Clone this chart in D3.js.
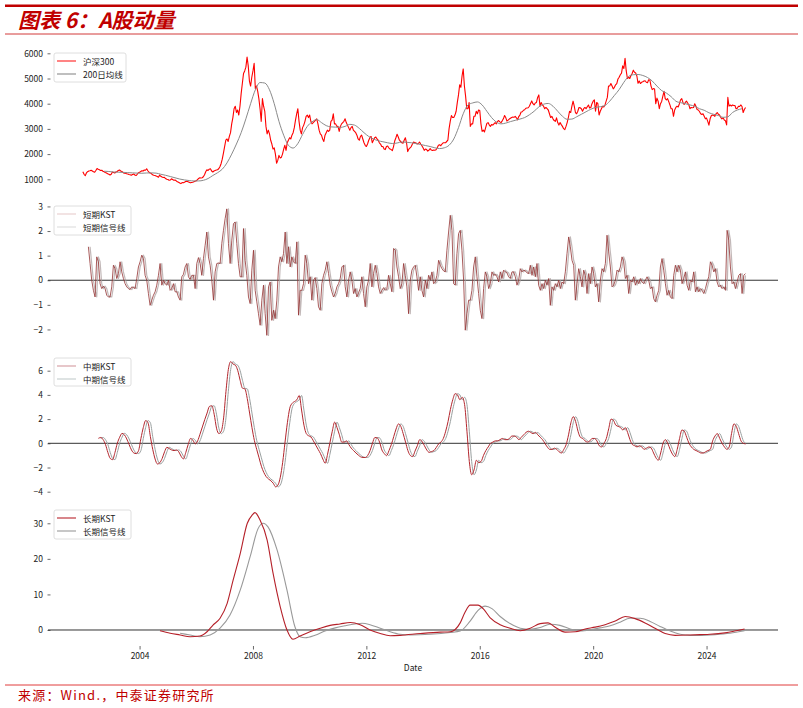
<!DOCTYPE html>
<html><head><meta charset="utf-8">
<script src="https://cdn.jsdelivr.net/npm/d3@7"></script>
<style>
body{margin:0;background:#fff}
svg{display:block}
text{font-family:"Noto Sans CJK SC","Liberation Sans",sans-serif}
</style>
</head><body>
<svg id="c" width="803" height="708"></svg>
<script>
// ---------------- DATA ----------------
const xTicks = [2004, 2008, 2012, 2016, 2020, 2024];
const p1Ticks = [1000, 2000, 3000, 4000, 5000, 6000];
const p2Ticks = [-2, -1, 0, 1, 2, 3];
const p3Ticks = [-4, -2, 0, 2, 4, 6];
const p4Ticks = [0, 10, 20, 30];

// 沪深300, semi-monthly readings from 2002.0
const csiStart = 2002.0, csiStep = 1 / 24;
const csi300 = [
1300,1200,1140,1250,1300,1330,1340,1360,1330,1300,1280,1350,1430,1400,1380,1350,1360,1320,1300,1270,1250,1220,1200,1170,
1200,1290,1270,1250,1290,1310,1350,1370,1330,1310,1270,1240,1240,1220,1210,1190,1180,1160,1190,1210,1170,1150,1200,1260,
1280,1310,1340,1330,1370,1360,1420,1340,1280,1250,1230,1180,1160,1150,1130,1110,1080,1170,1120,1090,1070,1080,1030,1000,
990,960,970,1020,990,960,970,940,900,880,850,830,870,860,880,910,920,900,880,860,870,880,900,920,
940,990,1030,1060,1050,1060,1100,1180,1300,1380,1350,1400,1420,1330,1290,1330,1350,1370,1380,1420,1500,1620,1800,2040,
2300,2550,2600,2500,2700,2850,3200,3450,3800,3900,3650,3750,3550,3900,4400,4800,5200,5300,5450,5850,5500,4900,4700,5050,
5300,5600,4600,4700,4500,4200,3800,3300,4200,3900,3700,3100,2800,2950,2800,2550,2400,2200,2250,2000,1640,1750,1950,1850,
1870,2000,2200,2350,2150,2450,2550,2650,2600,2750,2850,3050,3350,3600,3800,3300,2950,2800,3050,3150,3300,3500,3550,3450,
3550,3300,3200,3250,3300,3350,3400,3200,2950,2800,2750,2600,2500,2750,2850,2950,2900,2950,3300,3350,3600,3200,3200,3100,
3100,2900,3100,3200,3250,3300,3400,3250,3150,3050,2950,3050,3100,2950,2900,2850,2750,2600,2550,2700,2750,2600,2450,2350,
2300,2400,2550,2650,2700,2450,2550,2650,2680,2600,2550,2450,2400,2300,2300,2200,2180,2300,2320,2250,2200,2180,2140,2300,
2520,2650,2790,2680,2550,2500,2450,2430,2550,2650,2450,2100,2200,2250,2300,2400,2480,2450,2450,2400,2420,2480,2400,2330,
2250,2150,2200,2180,2120,2150,2220,2160,2140,2160,2150,2170,2250,2350,2370,2330,2400,2450,2450,2450,2500,2550,3000,3300,
3530,3450,3450,3550,3700,4050,4350,4750,4650,5100,5380,4700,4300,3800,3800,4050,3100,3200,3200,3500,3500,3700,3600,3750,
3730,3200,2900,2950,2880,3050,3220,3250,3160,3100,3170,3150,3200,3250,3200,3300,3330,3280,3250,3320,3400,3530,3450,3310,
3350,3390,3420,3450,3470,3460,3500,3440,3360,3490,3550,3670,3680,3740,3760,3820,3830,3840,3900,4010,4110,4000,3950,4030,
4050,4250,4350,3900,4050,3950,3900,3800,3850,3800,3750,3600,3450,3500,3400,3330,3300,3440,3250,3150,3250,3170,3100,3010,
2970,3100,3250,3450,3700,3650,3900,4100,3900,3650,3600,3700,3850,3840,3800,3700,3800,3850,3800,3880,3950,3830,3850,4000,
4100,4150,3700,4050,4000,3550,3700,3800,3900,3870,3950,4100,4250,4700,4700,4800,4700,4590,4650,4750,4800,4980,5050,5150,
5210,5500,5400,5800,5300,5000,5050,5000,5120,5200,5330,5250,5220,5100,4810,4900,4800,4850,4870,4900,4910,4850,4830,4950,
4940,4700,4560,4600,4580,4000,4220,4100,3800,4000,4090,4300,4490,4200,4150,4200,4080,3950,3800,3800,3500,3750,3850,3900,
3870,4000,4150,4200,4050,3970,4050,4100,4030,3950,3800,3850,3840,3850,4000,3900,3770,3750,3690,3600,3570,3600,3500,3400,
3430,3300,3150,3400,3520,3550,3540,3500,3600,3650,3580,3550,3460,3400,3440,3350,3320,3160,4250,3900,3950,3910,3950,3930,
3930,3800,3820,3900,3890,3950,3890,3650,3770,3850
];

// 200日均线, bi-monthly readings from 2002.75
const maStart = 2002.75, maStep = 1 / 6;
const ma200 = [
1320,1310,1290,1280,1275,1265,1255,1245,1240,1250,1255,1245,1200,1160,1110,1060,1010,975,950,935,
935,960,1030,1150,1260,1400,1650,2000,2400,2850,3400,4000,4550,4840,4820,4550,4000,3300,2750,2350,
2240,2420,2780,3100,3280,3370,3250,3130,3080,3070,3060,3100,3180,3150,3020,2850,2700,2600,2530,2490,
2450,2420,2440,2480,2470,2450,2420,2380,2340,2300,2250,2220,2250,2350,2600,3050,3600,3950,4030,4070,
3950,3700,3450,3270,3200,3230,3290,3340,3390,3450,3560,3700,3870,3980,4010,3900,3700,3500,3380,3390,
3480,3580,3680,3780,3850,3880,3930,4100,4330,4560,4850,5080,5150,5160,5120,5040,4900,4700,4520,4420,
4280,4100,4040,4000,3950,3900,3800,3740,3640,3580,3530,3460,3480,3650,3750,3800
];

// 短期KST, readings every 1/17 year from 2002.195
const shortStart = 2002.195, shortStep = 1 / 17;
const shortKst = [
1.36,0.68,0,-0.41,-0.68,0.95,0.75,-0.14,-0.34,-0.24,
-0.34,-0.61,-0.68,-0.68,-0.27,0.61,0.47,0.07,0.27,0.75,
0.34,0.07,-0.14,-0.27,-0.34,-0.38,-0.27,-0.30,-0.34,0.07,
0.54,0.75,1.02,0.88,0.20,0,-0.54,-1.02,-0.81,-0.61,
-0.47,-0.20,0.20,0.68,-0.20,0,-0.14,-0.20,0,-0.41,
-0.34,-0.14,-0.47,-0.47,-0.68,-0.81,0.14,0.24,0.54,0.68,
0.14,0.03,0.20,0.20,-0.34,0.68,0.92,0.68,0.20,0.88,
1.42,1.96,0.95,0.61,0,-0.81,0.34,0.68,0.70,0.68,
1.49,2.03,2.51,2.9,1.49,0.68,1.63,2.30,2.37,1.49,
0.68,0.14,0.14,2.10,0.81,0.20,-0.68,-0.95,0.41,1.22,
-0.41,-0.88,-1.36,-1.83,-0.81,-0.20,-1.36,-2.24,-0.27,-0.07,
-1.63,-1.22,-1.56,-0.81,0.54,0.95,0.75,1.08,1.96,0.68,
1.36,0.54,0.95,0.75,0.68,1.56,-1.42,-0.41,-0.41,-0.14,
1.02,0.68,-0.14,0.14,-0.81,0,0.11,-0.34,-1.08,-1.22,
-0.14,0.20,0.41,0.75,0.27,-0.20,-0.47,-0.68,-0.54,-0.27,
-0.14,0.07,0.54,0.61,-0.27,-0.68,0,0.34,0,-0.54,
-0.34,-0.68,-0.51,-0.34,0.14,-0.54,-1.08,-0.27,0,0.68,
-0.27,0.27,0.61,0.27,-0.27,-0.54,-0.41,-0.30,-0.41,-0.34,
0.20,-0.14,-0.47,1.29,1.22,0.54,0.14,-0.34,-0.14,0.68,
0.20,-0.27,-1.36,0,0.41,0.54,0.61,0.14,-0.41,
0.14,-0.41,-0.68,0,-0.34,0.20,0,0.34,-0.14,-0.07,
0.20,0.81,0.61,0.47,0.38,0.34,1.22,1.96,2.64,2.03,
-0.14,-0.20,1.08,1.90,2.03,1.22,0,-2.03,-1.36,-0.81,
-0.81,-0.41,0.54,0.95,0.14,-0.54,-1.22,-1.56,-0.34,0.34,
0.14,-0.34,-0.14,0.34,0.20,0.24,0.14,-0.07,0.34,0.07,
0.41,0.34,0.30,0.14,0.07,0.34,0.34,0.14,-0.20,0,
0.47,0.34,0.41,0.38,0.30,0.27,0.61,0.20,0.54,0.14,
0.68,-0.20,-0.41,-0.14,-0.34,0,-0.20,0.07,-1.02,-0.27,
-0.41,-0.14,-0.27,0,-0.34,-0.07,-0.14,0.34,1.08,1.76,
1.36,0.81,0.61,-0.81,-0.14,0.47,0.14,-0.27,0.41,0.20,
-0.54,0.27,-0.14,0.54,0.27,-0.27,-0.14,-0.88,0,0.47,
0.34,0.68,1.83,1.15,0.54,-0.27,-0.20,0,0.41,0.34,
0.54,0.95,0.75,0.07,0.20,-0.54,0,-0.07,0.14,-0.20,
0,-0.14,0.07,-0.07,-0.14,0,0.14,0,-0.34,-0.27,
-0.75,-0.88,-0.61,-0.41,0.54,0.88,0.41,-0.14,-0.61,-0.41,
-0.68,-0.75,0.20,0.61,0.34,0.61,0.41,-0.14,0.07,0.34,
-0.20,-0.41,0,-0.07,0.34,-0.47,-0.27,-0.47,-0.34,-0.41,
-0.54,-0.34,-0.07,0.14,0.75,0.61,0.34,0.47,-0.07,-0.27,
-0.20,-0.34,-0.27,-0.41,2.03,1.63,0.54,-0.14,-0.07,-0.34,
-0.07,0.20,0.27,-0.54,0.20,0.27
];
// 短期信号线 (lags the KST by one reading)
const shortSignalStart = 2002.254;
const shortSignal = [
1.36,0.68,0,-0.41,-0.68,0.95,0.75,-0.14,-0.34,-0.24,
-0.34,-0.61,-0.68,-0.68,-0.27,0.61,0.47,0.07,0.27,0.75,
0.34,0.07,-0.14,-0.27,-0.34,-0.38,-0.27,-0.30,-0.34,0.07,
0.54,0.75,1.02,0.88,0.20,0,-0.54,-1.02,-0.81,-0.61,
-0.47,-0.20,0.20,0.68,-0.20,0,-0.14,-0.20,0,-0.41,
-0.34,-0.14,-0.47,-0.47,-0.68,-0.81,0.14,0.24,0.54,0.68,
0.14,0.03,0.20,0.20,-0.34,0.68,0.92,0.68,0.20,0.88,
1.42,1.96,0.95,0.61,0,-0.81,0.34,0.68,0.70,0.68,
1.49,2.03,2.51,2.9,1.49,0.68,1.63,2.30,2.37,1.49,
0.68,0.14,0.14,2.10,0.81,0.20,-0.68,-0.95,0.41,1.22,
-0.41,-0.88,-1.36,-1.83,-0.81,-0.20,-1.36,-2.24,-0.27,-0.07,
-1.63,-1.22,-1.56,-0.81,0.54,0.95,0.75,1.08,1.96,0.68,
1.36,0.54,0.95,0.75,0.68,1.56,-1.42,-0.41,-0.41,-0.14,
1.02,0.68,-0.14,0.14,-0.81,0,0.11,-0.34,-1.08,-1.22,
-0.14,0.20,0.41,0.75,0.27,-0.20,-0.47,-0.68,-0.54,-0.27,
-0.14,0.07,0.54,0.61,-0.27,-0.68,0,0.34,0,-0.54,
-0.34,-0.68,-0.51,-0.34,0.14,-0.54,-1.08,-0.27,0,0.68,
-0.27,0.27,0.61,0.27,-0.27,-0.54,-0.41,-0.30,-0.41,-0.34,
0.20,-0.14,-0.47,1.29,1.22,0.54,0.14,-0.34,-0.14,0.68,
0.20,-0.27,-1.36,0,0.41,0.54,0.61,0.14,-0.41,
0.14,-0.41,-0.68,0,-0.34,0.20,0,0.34,-0.14,-0.07,
0.20,0.81,0.61,0.47,0.38,0.34,1.22,1.96,2.64,2.03,
-0.14,-0.20,1.08,1.90,2.03,1.22,0,-2.03,-1.36,-0.81,
-0.81,-0.41,0.54,0.95,0.14,-0.54,-1.22,-1.56,-0.34,0.34,
0.14,-0.34,-0.14,0.34,0.20,0.24,0.14,-0.07,0.34,0.07,
0.41,0.34,0.30,0.14,0.07,0.34,0.34,0.14,-0.20,0,
0.47,0.34,0.41,0.38,0.30,0.27,0.61,0.20,0.54,0.14,
0.68,-0.20,-0.41,-0.14,-0.34,0,-0.20,0.07,-1.02,-0.27,
-0.41,-0.14,-0.27,0,-0.34,-0.07,-0.14,0.34,1.08,1.76,
1.36,0.81,0.61,-0.81,-0.14,0.47,0.14,-0.27,0.41,0.20,
-0.54,0.27,-0.14,0.54,0.27,-0.27,-0.14,-0.88,0,0.47,
0.34,0.68,1.83,1.15,0.54,-0.27,-0.20,0,0.41,0.34,
0.54,0.95,0.75,0.07,0.20,-0.54,0,-0.07,0.14,-0.20,
0,-0.14,0.07,-0.07,-0.14,0,0.14,0,-0.34,-0.27,
-0.75,-0.88,-0.61,-0.41,0.54,0.88,0.41,-0.14,-0.61,-0.41,
-0.68,-0.75,0.20,0.61,0.34,0.61,0.41,-0.14,0.07,0.34,
-0.20,-0.41,0,-0.07,0.34,-0.47,-0.27,-0.47,-0.34,-0.41,
-0.54,-0.34,-0.07,0.14,0.75,0.61,0.34,0.47,-0.07,-0.27,
-0.20,-0.34,-0.27,-0.41,2.03,1.63,0.54,-0.14,-0.07,-0.34,
-0.07,0.20,0.27,-0.54,0.20
];

// 中期KST, monthly readings from 2002.548
const medStart = 2002.548, medStep = 1 / 12;
const medKst = [
0.41,0.48,0.3,-0.1,-0.75,-1.25,-1.35,-0.76,0.0,0.5,
0.82,0.7,0.36,-0.1,-0.55,-0.8,-0.85,-0.6,0.4,1.3,
1.88,1.7,0.55,-0.5,-1.3,-1.71,-1.6,-1.25,-0.7,-0.33,
-0.44,-0.55,-0.6,-0.55,-0.7,-1.07,-1.29,-0.75,-0.1,0.4,
0.25,-0.05,0.2,0.75,1.35,1.95,2.5,3.05,3.1,2.4,
1.25,0.8,1.0,2.1,4.3,6.1,6.75,6.55,6.45,6.0,
5.2,4.55,4.5,3.7,2.5,1.3,0.25,-0.5,-1.2,-1.9,
-2.4,-2.75,-2.95,-3.1,-3.3,-3.6,-3.45,-2.8,-1.57,0.1,
1.7,2.9,3.3,3.45,3.6,3.95,2.75,1.5,0.8,0.62,
0.52,0.2,-0.15,-0.5,-0.85,-1.3,-1.65,-0.9,0.05,1.0,
1.75,1.3,0.7,0.1,0.1,0.2,-0.1,-0.4,-0.6,-0.8,
-0.97,-1.12,-1.17,-1.17,-1.0,-0.6,0.0,0.48,0.45,0.1,
-0.55,-0.85,-1.02,-0.6,-0.1,0.55,1.18,1.6,1.4,0.8,
0.1,-0.6,-1.0,-1.1,-0.65,-0.2,0.3,0.15,-0.2,-0.55,
-0.75,-0.68,-0.6,-0.35,-0.05,
0.1,0.4,1.0,1.8,2.8,3.6,4.1,4.0,3.6,3.8,
3.2,1.0,-1.5,-2.6,-2.2,-1.4,-1.6,-1.5,-1.0,-0.6,
-0.3,0.0,0.1,0.2,0.2,0.3,0.4,0.3,0.3,0.4,0.6,0.6,
0.5,0.3,0.5,0.7,0.9,1.0,0.9,0.8,0.9,0.7,
0.5,0.3,0.0,-0.3,-0.5,-0.5,-0.4,-0.5,-0.7,-0.8,
-0.5,-0.1,0.7,1.7,2.2,1.8,1.0,0.5,0.4,0.2,
0.1,0.2,0.4,0.4,0.2,-0.2,-0.3,0.0,0.4,1.2,
2.0,1.9,1.5,1.4,1.3,1.1,1.3,0.9,0.3,-0.1,
-0.2,-0.3,-0.2,-0.3,-0.5,-0.4,-0.3,-0.4,-0.8,-1.2,
-1.4,-0.8,0.0,0.3,0.0,-0.5,-0.9,-1.1,-0.5,0.4,
1.1,1.0,0.5,0.0,-0.3,-0.5,-0.6,-0.7,-0.8,-0.8,
-0.7,-0.6,-0.5,0.2,0.6,0.8,0.4,0.0,-0.3,-0.5,
-0.3,0.8,1.6,1.4,0.8,0.2,0.0,-0.05
];
// 中期信号线 (lags the KST by one month)
const medSignalStart = 2002.631;
const medSignal = [
0.41,0.48,0.3,-0.1,-0.75,-1.25,-1.35,-0.76,0.0,0.5,
0.82,0.7,0.36,-0.1,-0.55,-0.8,-0.85,-0.6,0.4,1.3,
1.88,1.7,0.55,-0.5,-1.3,-1.71,-1.6,-1.25,-0.7,-0.33,
-0.44,-0.55,-0.6,-0.55,-0.7,-1.07,-1.29,-0.75,-0.1,0.4,
0.25,-0.05,0.2,0.75,1.35,1.95,2.5,3.05,3.1,2.4,
1.25,0.8,1.0,2.1,4.3,6.1,6.75,6.55,6.45,6.0,
5.2,4.55,4.5,3.7,2.5,1.3,0.25,-0.5,-1.2,-1.9,
-2.4,-2.75,-2.95,-3.1,-3.3,-3.6,-3.45,-2.8,-1.57,0.1,
1.7,2.9,3.3,3.45,3.6,3.95,2.75,1.5,0.8,0.62,
0.52,0.2,-0.15,-0.5,-0.85,-1.3,-1.65,-0.9,0.05,1.0,
1.75,1.3,0.7,0.1,0.1,0.2,-0.1,-0.4,-0.6,-0.8,
-0.97,-1.12,-1.17,-1.17,-1.0,-0.6,0.0,0.48,0.45,0.1,
-0.55,-0.85,-1.02,-0.6,-0.1,0.55,1.18,1.6,1.4,0.8,
0.1,-0.6,-1.0,-1.1,-0.65,-0.2,0.3,0.15,-0.2,-0.55,
-0.75,-0.68,-0.6,-0.35,-0.05,
0.1,0.4,1.0,1.8,2.8,3.6,4.1,4.0,3.6,3.8,
3.2,1.0,-1.5,-2.6,-2.2,-1.4,-1.6,-1.5,-1.0,-0.6,
-0.3,0.0,0.1,0.2,0.2,0.3,0.4,0.3,0.3,0.4,0.6,0.6,
0.5,0.3,0.5,0.7,0.9,1.0,0.9,0.8,0.9,0.7,
0.5,0.3,0.0,-0.3,-0.5,-0.5,-0.4,-0.5,-0.7,-0.8,
-0.5,-0.1,0.7,1.7,2.2,1.8,1.0,0.5,0.4,0.2,
0.1,0.2,0.4,0.4,0.2,-0.2,-0.3,0.0,0.4,1.2,
2.0,1.9,1.5,1.4,1.3,1.1,1.3,0.9,0.3,-0.1,
-0.2,-0.3,-0.2,-0.3,-0.5,-0.4,-0.3,-0.4,-0.8,-1.2,
-1.4,-0.8,0.0,0.3,0.0,-0.5,-0.9,-1.1,-0.5,0.4,
1.1,1.0,0.5,0.0,-0.3,-0.5,-0.6,-0.7,-0.8,-0.8,
-0.7,-0.6,-0.5,0.2,0.6,0.8,0.4,0.0,-0.3,-0.5,
-0.3,0.8,1.6,1.4,0.8,0.2,0.0
];

// 长期KST
const longKstYears = [2004.72,2005.08,2005.43,2005.78,2006.13,2006.38,2006.59,2006.84,2007.09,2007.30,2007.55,2007.80,2007.97,2008.07,2008.25,2008.50,2008.71,2008.96,2009.20,2009.41,2009.66,2010.01,2010.37,2010.72,2011.07,2011.43,2011.78,2012.13,2012.49,2012.84,2013.19,2013.90,2014.61,2014.96,2015.31,2015.48,2015.66,2015.94,2016.12,2016.36,2016.72,2017.07,2017.43,2017.78,2018.13,2018.41,2018.66,2019.01,2019.37,2019.72,2020.07,2020.42,2020.78,2021.13,2021.48,2021.83,2022.18,2022.54,2022.89,2023.42,2023.77,2024.12,2024.65,2024.99,2025.34];
const longKst = [-0.2,-0.9,-1.4,-1.9,-1.7,-0.5,1.4,3.3,7.5,14,21.5,30,32.3,33,30.9,25.3,15.9,6.6,0,-2.6,-1.7,-0.5,0.5,1.3,1.7,2.1,1.5,0,-1.0,-1.6,-1.5,-1.0,-0.6,-0.5,2,5,7,7,6,3.5,1.5,0.5,-0.2,0.5,1.8,2,0.8,-0.6,-0.5,0.3,0.8,1.5,2.5,3.8,3.2,2,0.5,-1,-1.5,-1.4,-1.3,-1.2,-0.8,-0.3,0.3];
// 长期信号线
const longSigYears = [2005.43,2005.78,2006.13,2006.49,2006.84,2007.19,2007.55,2007.90,2008.18,2008.36,2008.53,2008.85,2009.20,2009.48,2009.66,2009.84,2010.19,2010.54,2010.90,2011.25,2011.60,2011.85,2012.13,2012.49,2012.84,2013.19,2013.54,2014.25,2014.96,2015.31,2015.66,2015.94,2016.19,2016.43,2016.72,2017.07,2017.43,2017.78,2018.13,2018.48,2018.83,2019.19,2019.54,2019.89,2020.24,2020.60,2020.95,2021.30,2021.66,2022.01,2022.36,2022.72,2023.07,2023.42,2023.77,2024.30,2024.83,2025.34];
const longSignal = [-0.9,-1.4,-1.9,-1.4,0.5,4.2,11.2,20.6,28.5,30,29,22.5,11.2,0.9,-1.9,-2.2,-1.5,-0.3,0.6,1.2,1.7,1.9,1.5,0.5,-0.5,-1.2,-1.4,-1.2,-0.7,-0.3,2.5,5.5,6.7,6,3.8,1.8,0.5,0.2,0.7,1.6,1.3,0.3,-0.3,0,0.6,1.2,2.2,3.3,3.3,2.4,1.0,-0.3,-1.2,-1.5,-1.5,-1.3,-0.9,-0.2];

// ---------------- DRAW ----------------
const svg = d3.select("#c");

// header
svg.append("rect").attr("x", 5).attr("y", 4.5).attr("width", 793).attr("height", 2.5).attr("fill", "#c00000");
svg.append("text").attr("x", 18).attr("y", 28)
  .attr("fill", "#c00000").attr("font-size", 21).attr("font-weight", "bold").attr("font-style", "italic")
  .text("图表 6：A股动量");
svg.append("line").attr("x1", 5).attr("x2", 798).attr("y1", 34).attr("y2", 34).attr("stroke", "#d23a3a").attr("stroke-width", 1);

// footer
svg.append("line").attr("x1", 5).attr("x2", 798).attr("y1", 685).attr("y2", 685).attr("stroke", "#e03c3c").attr("stroke-width", 1);
svg.append("text").attr("x", 18).attr("y", 700).attr("fill", "#c00000").attr("font-size", 13)
  .attr("letter-spacing", 1.2).text("来源：Wind.，中泰证券研究所");

const x = d3.scaleLinear().domain([2000.77, 2026.52]).range([48, 778]);

const panels = [
  {top: 50, bottom: 189, domain: [615, 6131], ticks: p1Ticks, zero: false},
  {top: 202, bottom: 342, domain: [-2.51, 3.18], ticks: p2Ticks, zero: true},
  {top: 354, bottom: 494, domain: [-4.19, 7.38], ticks: p3Ticks, zero: true},
  {top: 506, bottom: 646, domain: [-4.5, 34.86], ticks: p4Ticks, zero: true}
];
panels.forEach(p => { p.y = d3.scaleLinear().domain(p.domain).range([p.bottom, p.top]); });

function seq(start, step, vals) { return vals.map((v, i) => ({t: start + i * step, v})); }
function pairs(ts, vals) { return vals.map((v, i) => ({t: ts[i], v})); }

const tickFont = "'Liberation Sans', Arial, sans-serif";
function drawAxis(p) {
  const g = svg.append("g").attr("transform", "translate(50.5,0)")
    .call(d3.axisLeft(p.y).tickValues(p.ticks).tickFormat(d3.format("d")).tickSize(3).tickPadding(4.5));
  g.select(".domain").remove();
  g.selectAll(".tick line").attr("stroke", "#444").attr("stroke-width", 0.8);
  g.selectAll(".tick text").attr("fill", "#222").attr("font-size", 8.5).attr("font-family", tickFont);
  if (p.zero) {
    svg.append("line").attr("x1", 48).attr("x2", 778)
      .attr("y1", p.y(0)).attr("y2", p.y(0))
      .attr("stroke", "#333").attr("stroke-width", 1);
  }
}
panels.forEach(drawAxis);

function drawLine(p, data, color, width, curve, opacity) {
  const line = d3.line().x(d => x(d.t)).y(d => p.y(d.v)).curve(curve || d3.curveLinear);
  svg.append("path").datum(data).attr("d", line)
    .attr("fill", "none").attr("stroke", color).attr("stroke-width", width)
    .attr("stroke-opacity", opacity == null ? 1 : opacity)
    .attr("stroke-linejoin", "round");
}

// panel 1
drawLine(panels[0], seq(csiStart, csiStep, csi300), "#ff0000", 1.1);
drawLine(panels[0], seq(maStart, maStep, ma200), "#8a8a8a", 1, d3.curveMonotoneX);

// panel 2
drawLine(panels[1], seq(shortSignalStart, shortStep, shortSignal), "#a89a9a", 1.2, d3.curveLinear, 0.7);
drawLine(panels[1], seq(shortStart, shortStep, shortKst), "#933333", 0.9, d3.curveLinear, 0.9);

// panel 3
drawLine(panels[2], seq(medSignalStart, medStep, medSignal), "#9aa0a0", 1, d3.curveMonotoneX);
drawLine(panels[2], seq(medStart, medStep, medKst), "#b3262d", 1, d3.curveMonotoneX);

// panel 4
drawLine(panels[3], pairs(longSigYears, longSignal), "#999999", 1.1, d3.curveMonotoneX);
drawLine(panels[3], pairs(longKstYears, longKst), "#b52029", 1.1, d3.curveMonotoneX);

// x axis
const gx = svg.append("g").attr("transform", `translate(0,${panels[3].bottom})`)
  .call(d3.axisBottom(x).tickValues(xTicks).tickFormat(d3.format("d")).tickSize(3.5).tickPadding(3));
gx.select(".domain").remove();
gx.selectAll(".tick line").attr("stroke", "#444").attr("stroke-width", 0.8);
gx.selectAll(".tick text").attr("fill", "#222").attr("font-size", 8.5).attr("font-family", tickFont);
svg.append("text").attr("x", 413).attr("y", 671).attr("text-anchor", "middle")
  .attr("font-size", 8.5).attr("fill", "#222").attr("font-family", tickFont).text("Date");

// legends
function legend(bx, by, bw, bh, items) {
  svg.append("rect").attr("x", bx).attr("y", by).attr("width", bw).attr("height", bh)
    .attr("rx", 2).attr("fill", "#fff").attr("fill-opacity", 0.85)
    .attr("stroke", "#d6d6d6").attr("stroke-width", 0.8);
  items.forEach((it, i) => {
    const yy = by + 8 + i * 13;
    svg.append("line").attr("x1", bx + 3).attr("x2", bx + 22).attr("y1", yy).attr("y2", yy)
      .attr("stroke", it.color).attr("stroke-width", 1.1);
    svg.append("text").attr("x", bx + 29).attr("y", yy).attr("dominant-baseline", "central")
      .attr("font-size", 8.5).attr("fill", "#222").text(it.label);
  });
}
legend(54, 53, 72, 29, [{label: "沪深300", color: "#ff2020"}, {label: "200日均线", color: "#8a8a8a"}]);
legend(54, 206, 77, 29, [{label: "短期KST", color: "#e8cccc"}, {label: "短期信号线", color: "#dcdcdc"}]);
legend(54, 358, 77, 28, [{label: "中期KST", color: "#d49a9e"}, {label: "中期信号线", color: "#c4cccc"}]);
legend(54, 510, 77, 29, [{label: "长期KST", color: "#b8242c"}, {label: "长期信号线", color: "#999999"}]);
</script>
</body></html>
